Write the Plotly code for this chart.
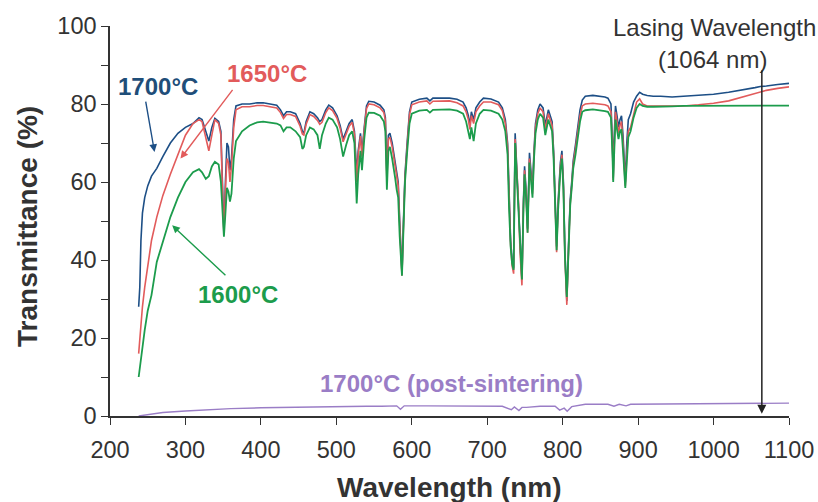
import plotly.graph_objects as go

# ---------------- data ----------------
wavelength = [
    238, 239.5, 241, 243, 246, 250, 255, 262, 270, 280, 290, 300, 310, 318, 322, 327, 331, 335, 339, 344,
    347, 349, 351, 353, 355, 357, 359, 361, 364, 367,
    375, 385, 395, 403, 412, 421, 426, 430, 434, 439, 446, 452, 455, 457, 460, 465, 470, 475, 478, 481,
    486, 490, 495, 501, 505, 509, 513, 517, 521, 524, 527, 529, 532, 534, 537, 540, 543, 550, 558, 563,
    565, 567, 569, 571, 574, 576, 578, 580, 582, 584, 587, 589, 591, 594, 597,
    600, 610, 620, 624, 628, 640, 650, 660, 668, 672, 675, 677, 679, 682, 685, 690, 695, 705, 715, 720,
    724, 727,
    729, 731, 733, 735, 737, 739, 741.5, 743.5, 746, 748, 749.5, 751.5, 753.5, 756, 758, 760, 762, 764,
    767, 770, 774, 777, 781, 784, 786, 788, 790, 792, 794, 797, 799, 801, 803, 805.5, 808, 810, 812, 814,
    817, 820, 823, 826,
    830, 840, 850, 856, 860, 864, 866, 867, 868, 870, 872, 874, 876, 878, 880, 882, 883, 885, 887, 890,
    894, 898, 902, 906, 912, 920, 930, 945, 960, 980, 1000, 1020, 1040, 1055, 1062, 1070, 1085, 1100,
]

t1700 = [
    28, 33, 45, 52, 56, 59, 61.5, 63.5, 66.5, 70, 72.5, 74, 75, 76.5, 76, 73, 70.5, 74, 76.3, 75.5,
    73, 60, 47, 60, 70, 69, 63, 66, 76, 79.5,
    80, 80, 80.3, 80.3, 80, 79.7, 78.5, 77, 78, 78, 77.5, 75, 73, 72.5, 75.5, 78, 77.5, 76.5, 75.5, 76,
    78.5, 79.7, 79, 77, 74.5, 71, 73, 75, 76, 73, 62, 68, 72.5, 67.5, 74, 79.5, 80.7, 80.5, 79.7, 78.5,
    76.5, 62, 72, 72.5, 70, 67.5, 65, 61.5, 60, 50, 36.5, 50, 62, 70.5, 78,
    80.5, 81.2, 81.5, 80.8, 81.5, 81.5, 81.5, 81.2, 80.5, 79, 77, 74.5, 78, 76, 79, 80.5, 81.5, 81.3, 80.5, 79,
    76, 70,
    55, 45, 40, 38, 72.5, 64, 55.5, 43, 35, 55, 64, 58, 48, 67.5, 63, 58, 68, 75,
    78.5, 80, 79, 74.5, 78.5, 77, 75.5, 68, 55, 43.5, 55, 65, 68, 60, 42, 29.5, 45, 55.5, 60, 65.5,
    69.5, 73.5, 78.5, 81,
    82, 82.2, 82, 81.8, 81.5, 80, 70, 61, 70, 79.5, 77, 74, 76, 77, 72, 61, 60, 70, 76, 77.5,
    80.5, 82, 83, 82.5, 82.2, 82, 82, 81.8, 82, 82.2, 82.5, 83, 83.6, 84.2, 84.5, 84.6, 85, 85.3,
]

t1650 = [
    16, 20, 24, 28, 33, 38, 45, 51, 56.5, 62, 67, 72, 75, 76, 75.5, 71.5, 68, 72, 76, 75,
    72, 58, 46.5, 58, 66, 65, 60, 64, 74, 78.5,
    79.3, 79.3, 79.6, 79.6, 79.3, 79, 77.8, 76.3, 77.3, 77.3, 76.8, 74.3, 72.3, 72, 74.8, 77.3, 76.8, 75.8, 74.8, 75.3,
    77.8, 79, 78.3, 76.3, 73.8, 70.3, 72.3, 74.3, 75.3, 72.3, 60, 67, 71.8, 66.5, 73.3, 78.8, 80, 79.8, 79, 77.8,
    75.8, 60.5, 71, 71.5, 69, 66.5, 64, 60.5, 59, 49, 36, 49, 61, 69.5, 77.3,
    79.8, 80.5, 80.8, 80, 80.7, 80.8, 80.8, 80.3, 79.5, 78, 76, 73.5, 77, 75, 78, 79.5, 80.5, 80.5, 79.8, 78.3,
    75, 69,
    54, 44, 38.5, 36.5, 71, 63, 54.5, 42, 33.5, 54, 63, 57, 47, 66, 62, 57, 67, 74,
    77.5, 79, 78, 73.5, 77.5, 76, 74.5, 67, 54, 42, 54, 64, 67, 59, 40.5, 28.5, 44, 54.5, 59, 64.5,
    68.5, 72.5, 77, 79.5,
    80, 80.2, 80, 79.8, 79.5, 78, 69, 60.5, 68, 78, 75.5, 72.5, 74.5, 75.5, 70, 60, 59, 67, 73, 74,
    77, 80.5, 81.3, 80, 79.5, 79.5, 79.4, 79.4, 79.5, 79.8, 80.2, 80.8, 81.9, 82.8, 83.2, 83.5, 84, 84.4,
]

t1600 = [
    10, 12.5, 15, 18, 22, 27, 31, 39.5, 44.5, 51, 56, 60, 62.5, 63.3, 62.5, 60.8, 61.5, 64, 65.2, 64.5,
    60, 52, 46, 52, 58.5, 57.5, 55, 57, 66, 70.5,
    73, 74.5, 75.3, 75.5, 75.3, 75, 74.5, 73, 74, 74, 73, 71.5, 68.5, 69, 72, 74, 73.5, 72, 68.5, 72,
    75, 76.5, 76, 74, 71, 66.5, 69.5, 72, 73, 70, 54.5, 62, 68, 63, 71, 76.5, 77.8, 77.7, 77, 75.5,
    73, 58, 68, 69, 66, 64, 61, 58, 56, 46, 36, 48, 60, 68, 75,
    77.5, 78.3, 78.5, 77.8, 78.5, 78.6, 78.6, 78.3, 77.5, 75.5, 73, 71, 74, 70.5, 75, 77.5, 78.5, 78.3, 77.5, 76,
    73, 67,
    53, 43.5, 39, 37.5, 70, 62, 54, 42.5, 35, 53, 62, 56, 47, 65, 61, 56, 66, 72.5,
    76, 77.5, 76.5, 72, 76, 74.5, 73, 66, 53.5, 42.5, 53, 63, 66, 58, 41, 30.5, 43.5, 54, 58.5, 63.5,
    67, 71, 75.5, 78,
    78.4, 78.6, 78.4, 78.2, 78, 76.5, 67, 60, 66, 76, 73.5, 71, 73, 73.5, 68, 59, 58.5, 65, 71.5, 73,
    76.5, 79, 80, 79.5, 79.3, 79.3, 79.4, 79.4, 79.5, 79.5, 79.5, 79.6, 79.6, 79.6, 79.6, 79.6, 79.6, 79.6,
]

wavelength_post = [238, 250, 270, 300, 330, 360, 400, 450, 500, 540, 560, 580, 585, 590, 620, 680,
                   720, 732, 736, 742, 746, 752, 770, 790, 796, 802, 806, 812, 830, 860, 868, 875, 884, 890,
                   950, 1000, 1100]
t1700_post = [0, 0.3, 0.9, 1.3, 1.6, 1.9, 2.1, 2.3, 2.4, 2.5, 2.5, 2.6, 1.7, 2.6, 2.6, 2.6,
              2.5, 1.6, 2.3, 1.4, 2.2, 2.2, 2.5, 2.5, 1.5, 2.0, 1.2, 2.4, 3.0, 3.0, 2.5, 3.0, 2.6, 3.0,
              3.1, 3.2, 3.3]

laser_nm = 1064
x_ticks = [200, 300, 400, 500, 600, 700, 800, 900, 1000, 1100]
y_ticks = [0, 20, 40, 60, 80, 100]

assert len(wavelength) == len(t1700) == len(t1650) == len(t1600)
assert len(wavelength_post) == len(t1700_post)

BLUE = "#1d4f86"
RED = "#e25b5b"
GREEN = "#1c9c4c"
PURPLE = "#9a7dc6"
INK = "#333333"
FONT = "Liberation Sans, Arial, sans-serif"

fig = go.Figure()
fig.add_trace(go.Scatter(x=wavelength, y=t1700, mode="lines", line=dict(color=BLUE, width=1.6), name="1700°C"))
fig.add_trace(go.Scatter(x=wavelength, y=t1650, mode="lines", line=dict(color=RED, width=1.6), name="1650°C"))
fig.add_trace(go.Scatter(x=wavelength, y=t1600, mode="lines", line=dict(color=GREEN, width=1.8), name="1600°C"))
fig.add_trace(go.Scatter(x=wavelength_post, y=t1700_post, mode="lines", line=dict(color=PURPLE, width=1.4),
                         name="1700°C (post-sintering)"))

ann = []
def label(text, x, y, color, size=24, bold=True):
    ann.append(dict(x=x, y=y, xref="x", yref="y", text=f"<b>{text}</b>" if bold else text,
                    showarrow=False, font=dict(family=FONT, size=size, color=color)))

def arrow(x0, y0, x1, y1, color, width=1.4, head=2, size=1.1):
    ann.append(dict(x=x1, y=y1, ax=x0, ay=y0, xref="x", yref="y", axref="x", ayref="y", text="",
                    showarrow=True, arrowhead=head, arrowsize=size, arrowwidth=width, arrowcolor=color))

label("1700°C", 264, 84.6, "#1f4e79")
label("1650°C", 408, 87.7, RED)
label("1600°C", 369, 31.2, GREEN)
label("1700°C (post-sintering)", 652, 8.4, PURPLE)
label("Lasing Wavelength", 1001, 99.6, INK, size=24, bold=False)
label("(1064 nm)", 999, 91.5, INK, size=24, bold=False)

arrow(247, 81, 259, 67.7, BLUE)
arrow(364, 84, 293.4, 66, RED)
arrow(355, 35.7, 282.4, 48.9, GREEN)
arrow(laser_nm, 89, laser_nm, 0.6, "#222222", width=1.5, head=2, size=1.2)

# axis titles
ann.append(dict(xref="paper", yref="paper", x=0.5, y=0, yanchor="middle", yshift=-71, showarrow=False,
                text="<b>Wavelength (nm)</b>", font=dict(family=FONT, size=28, color=INK)))
ann.append(dict(xref="paper", yref="paper", x=0, y=0.5, xanchor="center", yanchor="middle", xshift=-83,
                yshift=-6, textangle=-90, showarrow=False,
                text="<b>Transmittance (%)</b>", font=dict(family=FONT, size=28, color=INK)))

fig.update_layout(
    width=818, height=502,
    margin=dict(l=110, r=29, t=26, b=86, autoexpand=False),
    paper_bgcolor="white", plot_bgcolor="white",
    showlegend=False,
    annotations=ann,
    font=dict(family=FONT, color=INK),
    xaxis=dict(range=[200, 1100], tickvals=x_ticks, ticks="outside", ticklen=7, tickwidth=1.3,
               tickcolor=INK, showline=True, linecolor=INK, linewidth=1.5, showgrid=False, zeroline=False,
               automargin=False, ticklabelstandoff=5,
               tickfont=dict(family=FONT, size=23.5, color=INK)),
    yaxis=dict(range=[0, 100], tickvals=y_ticks, ticks="outside", ticklen=7, tickwidth=1.3,
               tickcolor=INK, showline=True, linecolor=INK, linewidth=1.5, showgrid=False, zeroline=False,
               automargin=False,
               tickfont=dict(family=FONT, size=23.5, color=INK),
               minor=dict(tickvals=[10, 30, 50, 70, 90], ticks="outside", ticklen=7, tickcolor=INK,
                          tickwidth=1.3)),
)

fig.write_html("out.html")
